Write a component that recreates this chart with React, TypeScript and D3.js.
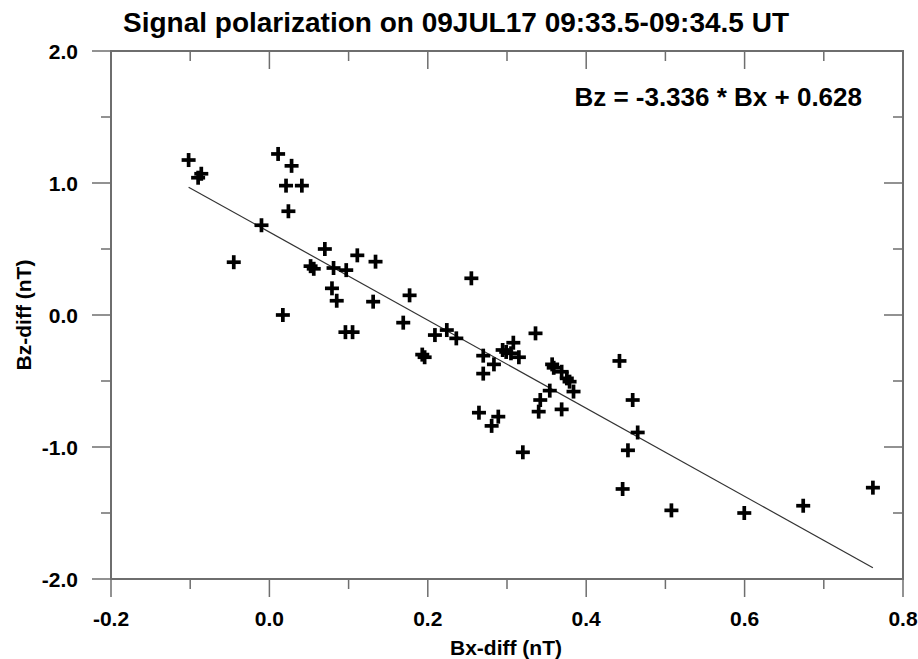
import React from "react";
import * as d3 from "d3";

const bxDiff = [
  -0.102, -0.09, -0.086, 0.011, 0.028, 0.021, 0.041, 0.024, -0.01, -0.045,
  0.07, 0.052, 0.056, 0.081, 0.097, 0.111, 0.134, 0.079, 0.085, 0.131,
  0.017, 0.096, 0.105, 0.177, 0.169, 0.193, 0.196, 0.209, 0.224, 0.236,
  0.255, 0.27, 0.2835, 0.27, 0.2945, 0.308, 0.305, 0.315, 0.299, 0.336,
  0.357, 0.359, 0.369, 0.3755, 0.379, 0.384, 0.354, 0.342, 0.34, 0.369,
  0.2646, 0.289, 0.2806, 0.32, 0.442, 0.4587, 0.465, 0.4527, 0.446, 0.5076,
  0.5996, 0.674, 0.762,
];
const bzDiff = [
  1.174, 1.04, 1.07, 1.22, 1.13, 0.98, 0.98, 0.786, 0.68, 0.4,
  0.5, 0.37, 0.35, 0.356, 0.34, 0.452, 0.404, 0.202, 0.108, 0.101,
  0.0, -0.13, -0.13, 0.149, -0.058, -0.3, -0.32, -0.152, -0.114, -0.177,
  0.278, -0.308, -0.374, -0.444, -0.265, -0.21, -0.29, -0.32, -0.28, -0.139,
  -0.374, -0.4, -0.43, -0.48, -0.505, -0.58, -0.573, -0.644, -0.732, -0.715,
  -0.74, -0.77, -0.84, -1.04, -0.348, -0.644, -0.89, -1.025, -1.318, -1.48,
  -1.5, -1.445, -1.308,
];
const slope = -3.336;
const intercept = 0.628;
const xTickLabels = ["-0.2", "0.0", "0.2", "0.4", "0.6", "0.8"];
const yTickLabels = ["2.0", "1.0", "0.0", "-1.0", "-2.0"];
const xMinorTicks = [-0.1, 0.1, 0.3, 0.5, 0.7];
const yMinorTicks = [1.5, 0.5, -0.5, -1.5];
const title = "Signal polarization on 09JUL17 09:33.5-09:34.5 UT";
const xTitle = "Bx-diff (nT)";
const yTitle = "Bz-diff (nT)";
const eqText = "Bz = -3.336 * Bx + 0.628";

const FONT = "'Liberation Sans', Arial, Helvetica, sans-serif";

export default function App() {
  const W = 918, H = 659;
  const L = 111, R = 903, T = 51, B = 579;
  const x = d3.scaleLinear().domain([-0.2, 0.8]).range([L, R]);
  const y = d3.scaleLinear().domain([-2, 2]).range([B, T]);
  const xMajor = xTickLabels.map(Number);
  const yMajor = yTickLabels.map(Number);
  const [x0, x1] = d3.extent(bxDiff) as [number, number];
  const line = d3.line<number>().x((d) => x(d)).y((d) => y(slope * d + intercept));
  const tickColor = "#6e6e6e";
  const arm = 7;
  return (
    <svg width={W} height={H} style={{ position: "absolute", left: 0, top: 0, background: "#fff" }}>
      <rect x={0} y={0} width={W} height={H} fill="#fff" />
      <text x={123} y={32} fontFamily={FONT} fontWeight="bold" fontSize={28} fill="#000">{title}</text>
      {/* ticks */}
      <g stroke={tickColor} strokeWidth={1.5}>
        {xMajor.map((v) => (
          <g key={"xm" + v}>
            <line x1={x(v)} x2={x(v)} y1={B} y2={B + 18} />
            <line x1={x(v)} x2={x(v)} y1={T} y2={T + 18} />
          </g>
        ))}
        {xMinorTicks.map((v) => (
          <g key={"xn" + v}>
            <line x1={x(v)} x2={x(v)} y1={B} y2={B + 10} />
            <line x1={x(v)} x2={x(v)} y1={T} y2={T + 10} />
          </g>
        ))}
        {yMajor.map((v) => (
          <g key={"ym" + v}>
            <line x1={L - 19} x2={L} y1={y(v)} y2={y(v)} />
            <line x1={R - 19} x2={R} y1={y(v)} y2={y(v)} />
          </g>
        ))}
        {yMinorTicks.map((v) => (
          <g key={"yn" + v}>
            <line x1={L - 10} x2={L} y1={y(v)} y2={y(v)} />
            <line x1={R - 10} x2={R} y1={y(v)} y2={y(v)} />
          </g>
        ))}
      </g>
      <rect x={L} y={T} width={R - L} height={B - T} fill="none" stroke={tickColor} strokeWidth={2} />
      {/* tick labels */}
      {xTickLabels.map((t) => (
        <text key={"xl" + t} x={x(Number(t))} y={626} textAnchor="middle" fontFamily={FONT} fontWeight="bold" fontSize={21} fill="#000">{t}</text>
      ))}
      {yTickLabels.map((t) => (
        <text key={"yl" + t} x={78} y={y(Number(t)) + 7.5} textAnchor="end" fontFamily={FONT} fontWeight="bold" fontSize={21} fill="#000">{t}</text>
      ))}
      <text x={506} y={655} textAnchor="middle" fontFamily={FONT} fontWeight="bold" fontSize={21} fill="#000">{xTitle}</text>
      <text transform={`translate(31,${y(0)}) rotate(-90)`} textAnchor="middle" fontFamily={FONT} fontWeight="bold" fontSize={21} fill="#000">{yTitle}</text>
      <text x={862} y={106} textAnchor="end" fontFamily={FONT} fontWeight="bold" fontSize={26} fill="#000">{eqText}</text>
      {/* regression line */}
      <path d={line([x0, x1]) || ""} fill="none" stroke="#333" strokeWidth={1.2} />
      {/* points */}
      <g stroke="#000" strokeWidth={3.7}>
        {bxDiff.map((v, i) => (
          <g key={"p" + i}>
            <line x1={x(v) - arm} x2={x(v) + arm} y1={y(bzDiff[i])} y2={y(bzDiff[i])} />
            <line x1={x(v)} x2={x(v)} y1={y(bzDiff[i]) - arm} y2={y(bzDiff[i]) + arm} />
          </g>
        ))}
      </g>
    </svg>
  );
}
